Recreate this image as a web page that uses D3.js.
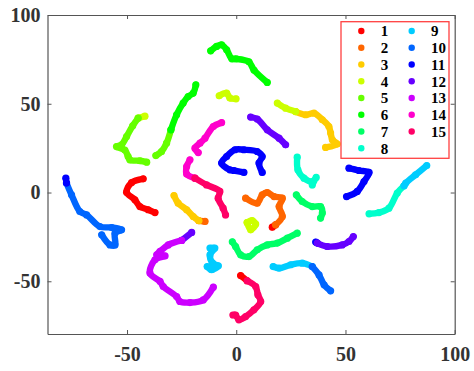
<!DOCTYPE html>
<html>
<head>
<meta charset="utf-8">
<script src="https://cdn.jsdelivr.net/npm/d3@7"></script>
<style>
  html, body { margin: 0; padding: 0; background: #fff; }
  svg { display: block; }
  .tick text { font-family: "Liberation Serif", serif; font-weight: bold; font-size: 20px; fill: #333; }
  .legend text { font-family: "Liberation Serif", serif; font-weight: bold; font-size: 15px; fill: #000; }
</style>
</head>
<body>
<svg id="chart" width="474" height="371"></svg>
<script>
"use strict";

var xTicks = [ -50, 0, 50, 100 ];
var yTicks = [ -50, 0, 50, 100 ];
var labels = [ "1", "2", "3", "4", "5", "6", "7", "8", "9", "10", "11", "12", "13", "14", "15" ];
var colors = [ "#ff0000", "#ff6600", "#ffcc00", "#ccff00", "#66ff00", "#00ff00", "#00ff66", "#00ffcc",
               "#00ccff", "#0066ff", "#0000ff", "#6600ff", "#cc00ff", "#ff00cc", "#ff0066" ];

// each series is a list of separate strokes
var series1 = [
  [ [-42.6,7.7], [-47.9,5.6], [-50.2,0.2], [-46.4,-4.1], [-44.1,-7.9], [-40.3,-9.7], [-37.2,-11.3] ],
  [ [2,-46.8], [5,-49.7] ],
  [ [18,-18.2], [16.5,-19.5] ]
];
var series2 = [
  [ [-17.1,-15.9], [-14.3,-16.3] ],
  [ [4.3,-3.2], [9.6,-6], [11.9,-1.3], [14.2,0], [17.3,-2.3], [21.1,-3.2], [19.6,-7.9], [21.1,-13.5], [18,-18.2] ]
];
var series3 = [
  [ [27.2,45.6], [31.8,43.8], [35.6,44.7], [39.4,41], [42.4,37.2], [43.2,33.5], [44,29.7], [46.2,27.3], [40.9,25.4] ],
  [ [-28.5,-1.7], [-26.6,-6], [-22.7,-9.7], [-19.7,-13.5], [-17.1,-15.9] ]
];
var series4 = [
  [ [-44.9,41.9], [-41.8,43] ],
  [ [-7.8,54.5], [-4.4,56], [-2.9,53.2], [-0.1,52.8] ],
  [ [18.8,50.4], [22.6,47.5], [27.2,45.6] ],
  [ [5,-16.9], [7.3,-15.8], [8.9,-17.8], [6.6,-21], [5,-16.9] ]
];
var series5 = [
  [ [-29.9,35.3], [-31.9,27.8], [-34.2,23.1], [-36.8,20.8] ],
  [ [-44.9,41.9], [-47.4,37.6], [-50.2,31.5], [-52.5,26.9], [-54.8,25.9], [-51,23.9], [-49.5,20.3], [-48.7,18.4], [-44.1,17.9], [-41,17.1] ]
];
var series6 = [
  [ [-11.7,79.8], [-9,82.3], [-6.7,83.2], [-4.4,80.4], [-2,75.3], [-0.1,75.3], [5.8,73.6], [8.1,69], [14.2,62] ],
  [ [-18.5,60.7], [-19.7,56], [-22,54.1], [-24.3,50.4], [-27.3,43.8], [-29.9,35.3] ]
];
var series7 = [
  [ [27.5,-1.3], [30.2,-5.1], [34.8,-7.9], [38.6,-7.9], [39.4,-11.6], [38.6,-14.4] ],
  [ [-1.8,-27.8], [-0.3,-30.4], [2,-35.1], [5.8,-36.1], [9.6,-32.3], [14.2,-29.5], [18.8,-28.5], [23.4,-25.7], [27.9,-22.9] ]
];
var series8 = [
  [ [76.8,3.8], [73.7,-0.3], [69.9,-8.8], [65.3,-11.3], [60.8,-12] ],
  [ [27.9,19.9], [28.2,12.8], [31,8.1], [34.8,6.2], [36.6,8.5], [34.8,4.3] ]
];
var series9 = [
  [ [87.2,15.2], [82.1,10], [77.6,5.3], [76.8,3.8] ],
  [ [16.9,-41.7], [19.6,-42.6], [24.9,-40.7], [30.2,-39.8], [34.8,-41.7] ],
  [ [-12,-31.3], [-9.8,-31.3], [-12,-35.1], [-10.8,-39.8], [-8.2,-41.3], [-11.3,-43.5], [-13.3,-41.7] ]
];
var series10 = [
  [ [-77.7,5.3], [-75.4,-1.3], [-71.6,-10.7], [-68.5,-12.6], [-62.4,-19.2], [-57,-19.7], [-52.5,-21], [-55.5,-22.9], [-55.5,-29.5], [-57.8,-29.5], [-61.6,-23.8] ],
  [ [34.8,-41.7], [37.9,-46.4], [40.2,-52], [43.2,-55.4] ]
];
var series11 = [
  [ [-78,8.1], [-77.7,5.3] ],
  [ [3.5,11.3], [-1.1,12.4], [-2.9,12.8], [-6.7,16.6], [-4.4,20.3], [-0.6,24.1], [3.5,24.1], [9.6,23.1], [11.9,20.3], [10.4,16.6], [11.9,11.3] ],
  [ [51.6,13.7], [56.2,12.4], [60.8,11.3], [58.5,6.2], [55.4,0.6], [50.5,-2.3] ],
  [ [36.4,-27.9], [37.1,-28.5] ]
];
var series12 = [
  [ [6.6,42.5], [9.6,41.4], [14.2,35.3], [19.6,30.6], [22.6,26.9] ],
  [ [37.1,-28.5], [41.7,-30.4], [48.5,-29.5], [51.6,-27.6], [53.6,-24.8] ],
  [ [-25,-27], [-20.4,-22.5] ]
];
var series13 = [
  [ [-25,-27], [-31.1,-29.5], [-34.9,-33.2], [-36.4,-35.1], [-32.6,-35.7], [-37.2,-37.9], [-39.5,-45.4], [-34.9,-50.1], [-33.4,-53], [-27.3,-58.6], [-25.8,-61.4], [-21.2,-62], [-15.1,-60.5], [-10.5,-53.3] ]
];
var series14 = [
  [ [-21.2,18.4], [-22.7,14.6], [-22.7,10.4], [-18.9,8.1] ],
  [ [-6.7,39.4], [-10.5,37.2], [-14.3,30.6], [-16.6,27.8], [-18.9,25], [-17.4,22.5] ]
];
var series15 = [
  [ [-18.9,8.1], [-13.6,4.3], [-7.5,0.6], [-8.3,-3.2], [-6,-8.8], [-4.9,-12.6] ],
  [ [5,-49.7], [8.9,-53], [9.9,-57.6], [11.2,-61.4], [8.1,-66.1], [4.3,-69.9], [1.2,-71.7], [-0.3,-69], [-1.5,-69] ]
];

var allSeries = [ series1, series2, series3, series4, series5, series6, series7, series8,
                  series9, series10, series11, series12, series13, series14, series15 ];

var plot = { left: 47.5, right: 454.7, top: 15, bottom: 334 };

var x = d3.scaleLinear().domain( [ -86.4, 100 ] ).range( [ plot.left, plot.right ] );
var y = d3.scaleLinear().domain( [ -79.7, 100 ] ).range( [ plot.bottom, plot.top ] );

var svg = d3.select("#chart");

var line = d3.line()
  .curve( d3.curveCatmullRom )
  .x( function(d) { return x(d[0]) } )
  .y( function(d) { return y(d[1]) } );

// strokes, with a dot on every read point so they come out lumpy like the scatter
allSeries.forEach( function( strokes, i ) {
  var g = svg.append("g");
  g.selectAll("path")
    .data( strokes )
    .enter().append("path")
    .attr( "d", line )
    .style( "fill", "none" )
    .style( "stroke", colors[i] )
    .style( "stroke-width", 6.4 )
    .style( "stroke-linecap", "round" )
    .style( "stroke-linejoin", "round" );
  g.selectAll("circle")
    .data( d3.merge( strokes ) )
    .enter().append("circle")
    .attr( "cx", function(d) { return x(d[0]) } )
    .attr( "cy", function(d) { return y(d[1]) } )
    .attr( "r", 3.6 )
    .style( "fill", colors[i] );
} );

// axes, ticks point inwards
function dressAxis( sel ) {
  sel.selectAll("path").style( "stroke", "#555" ).style( "stroke-width", 1.2 );
  sel.selectAll("line").style( "stroke", "#555" ).style( "stroke-width", 1 );
}

svg.append("g")
  .attr( "transform", "translate(0," + plot.bottom + ")" )
  .call( d3.axisBottom(x).tickValues(xTicks).tickSizeInner(-4).tickSizeOuter(0).tickPadding(13).tickFormat(String) )
  .call( dressAxis );
svg.append("g")
  .attr( "transform", "translate(0," + plot.top + ")" )
  .call( d3.axisTop(x).tickValues(xTicks).tickSizeInner(-4).tickSizeOuter(0).tickFormat("") )
  .call( dressAxis );
svg.append("g")
  .attr( "transform", "translate(" + plot.left + ",0)" )
  .call( d3.axisLeft(y).tickValues(yTicks).tickSizeInner(-4).tickSizeOuter(0).tickPadding(7).tickFormat(String) )
  .call( dressAxis );
svg.append("g")
  .attr( "transform", "translate(" + plot.right + ",0)" )
  .call( d3.axisRight(y).tickValues(yTicks).tickSizeInner(-4).tickSizeOuter(0).tickFormat("") )
  .call( dressAxis );

// legend
var legend = svg.append("g").attr( "class", "legend" );

legend.append("rect")
  .attr( "x", 341 ).attr( "y", 21.7 )
  .attr( "width", 108 ).attr( "height", 136.6 )
  .style( "fill", "#fff" )
  .style( "stroke", "#ff4040" )
  .style( "stroke-width", 1.3 );

var rows = legend.selectAll("g.row")
  .data( labels )
  .enter().append("g")
  .attr( "class", "row" )
  .attr( "transform", function(d, i) {
    return "translate(" + ( i < 8 ? 361.3 : 411.7 ) + "," + ( 31 + ( i < 8 ? i : i - 8 ) * 16.76 ) + ")";
  } );

rows.append("circle")
  .attr( "r", 3.2 )
  .style( "fill", function(d, i) { return colors[i] } );

rows.append("text")
  .attr( "x", 19.4 )
  .attr( "dy", "0.35em" )
  .text( function(d) { return d } );
</script>
</body>
</html>
